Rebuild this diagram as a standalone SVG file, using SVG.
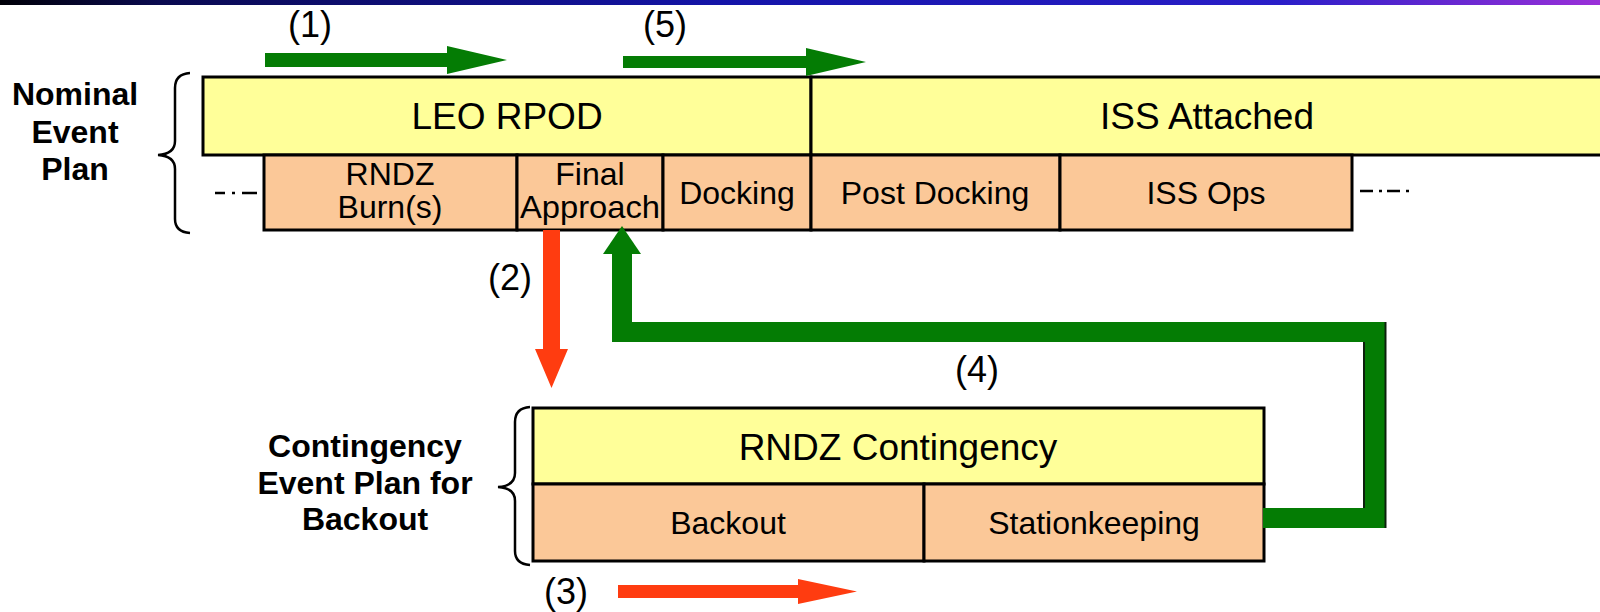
<svg xmlns="http://www.w3.org/2000/svg" width="1600" height="612" viewBox="0 0 1600 612">
  <defs>
    <linearGradient id="topbar" x1="0" y1="0" x2="1" y2="0">
      <stop offset="0" stop-color="#000008"/>
      <stop offset="0.1" stop-color="#0a0a50"/>
      <stop offset="0.45" stop-color="#1414a8"/>
      <stop offset="0.8" stop-color="#2a1ec8"/>
      <stop offset="1" stop-color="#9a30d8"/>
    </linearGradient>
  </defs>
  <style>
    .phase { fill: #ffff99; stroke: #000; stroke-width: 3; }
    .event { fill: #fbc898; stroke: #000; stroke-width: 3; }
    .big { font-family: "Liberation Sans", Arial, sans-serif; font-size: 37px; fill: #000; text-anchor: middle; }
    .lbl { font-family: "Liberation Sans", Arial, sans-serif; font-size: 32px; fill: #000; text-anchor: middle; }
    .num { font-family: "Liberation Sans", Arial, sans-serif; font-size: 36px; fill: #000; text-anchor: middle; }
    .side { font-family: "Liberation Sans", Arial, sans-serif; font-size: 32px; font-weight: bold; fill: #000; text-anchor: middle; }
    .brace { fill: none; stroke: #000; stroke-width: 2.5; }
    .dash { fill: none; stroke: #000; stroke-width: 2.5; }
    .green { fill: #047c04; }
    .red { fill: #ff3c10; }
  </style>
  <rect x="0" y="0" width="1600" height="612" fill="#ffffff"/>
  <rect x="0" y="0" width="1600" height="5" fill="url(#topbar)"/>

  <g id="nominal-label">
    <text class="side" x="75" y="105">Nominal</text>
    <text class="side" x="75" y="143">Event</text>
    <text class="side" x="75" y="180">Plan</text>
    <path class="brace" d="M190 73 Q175 74 175 88 V141 Q175 154 158 155 Q175 156 175 169 V219 Q175 232 190 233"/>
  </g>

  <g id="leo-rpod">
    <rect class="phase" x="203" y="77" width="608" height="78"/>
    <text class="big" x="507" y="129">LEO RPOD</text>
  </g>
  <g id="iss-attached">
    <rect class="phase" x="811" y="77" width="800" height="78"/>
    <text class="big" x="1207" y="129">ISS Attached</text>
  </g>
  <g id="rndz-burns">
    <rect class="event" x="264" y="155" width="253" height="75"/>
    <text class="lbl" x="390" y="185">RNDZ</text>
    <text class="lbl" x="390" y="218">Burn(s)</text>
  </g>
  <g id="final-approach">
    <rect class="event" x="517" y="155" width="146" height="75"/>
    <text class="lbl" x="590" y="185">Final</text>
    <text class="lbl" x="590" y="218" textLength="140" lengthAdjust="spacingAndGlyphs">Approach</text>
  </g>
  <g id="docking">
    <rect class="event" x="663" y="155" width="148" height="75"/>
    <text class="lbl" x="737" y="204">Docking</text>
  </g>
  <g id="post-docking">
    <rect class="event" x="811" y="155" width="249" height="75"/>
    <text class="lbl" x="935" y="204">Post Docking</text>
  </g>
  <g id="iss-ops">
    <rect class="event" x="1060" y="155" width="292" height="75"/>
    <text class="lbl" x="1206" y="204">ISS Ops</text>
  </g>
  <g id="continuation-marks">
    <path class="dash" d="M215 193 H225 M232 193 H235 M242 193 H257"/>
    <path class="dash" d="M1360 191 H1373 M1379 191 H1382 M1387 191 H1400 M1406 191 H1409"/>
  </g>

  <g id="contingency-label">
    <text class="side" x="365" y="457">Contingency</text>
    <text class="side" x="365" y="494">Event Plan for</text>
    <text class="side" x="365" y="530">Backout</text>
    <path class="brace" d="M530 407 Q515 408 515 422 V473 Q515 486 498 487 Q515 488 515 501 V551 Q515 564 530 565"/>
  </g>
  <g id="rndz-contingency">
    <rect class="phase" x="533" y="408" width="731" height="76"/>
    <text class="big" x="898" y="460">RNDZ Contingency</text>
  </g>
  <g id="backout">
    <rect class="event" x="533" y="484" width="391" height="77"/>
    <text class="lbl" x="728" y="534">Backout</text>
  </g>
  <g id="stationkeeping">
    <rect class="event" x="924" y="484" width="340" height="77"/>
    <text class="lbl" x="1094" y="534">Stationkeeping</text>
  </g>

  <g id="connectors">
    <g id="arrow-1">
      <polygon class="green" points="265,53 447,53 447,46 507,60 447,74 447,67 265,67"/>
      <text class="num" x="310" y="37">(1)</text>
    </g>
    <g id="arrow-5">
      <polygon class="green" points="623,56 806,56 806,48 866,62 806,76 806,68 623,68"/>
      <text class="num" x="665" y="37">(5)</text>
    </g>
    <g id="arrow-2">
      <polygon class="red" points="543,230 560,230 560,349 568,349 551.5,388 535,349 543,349"/>
      <text class="num" x="510" y="290">(2)</text>
    </g>
    <g id="arrow-3">
      <polygon class="red" points="618,585 798,585 798,579 857,591.5 798,604 798,598 618,598"/>
      <text class="num" x="566" y="604">(3)</text>
    </g>
    <g id="arrow-4">
      <path d="M1263 518 H1375 V332 H622 V252" fill="none" stroke="#047c04" stroke-width="20" stroke-linejoin="miter"/>
      <line x1="1364" y1="342" x2="1364" y2="508" stroke="#0c200c" stroke-width="2"/>
      <line x1="1385.5" y1="322" x2="1385.5" y2="528" stroke="#0c200c" stroke-width="2"/>
      <polygon class="green" points="603,254 641,254 622,226"/>
      <text class="num" x="977" y="382">(4)</text>
    </g>
  </g>
</svg>
